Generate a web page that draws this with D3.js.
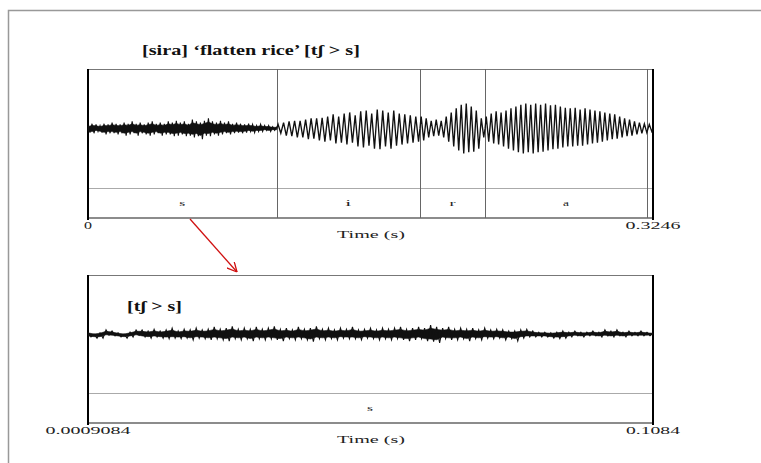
<!DOCTYPE html>
<html>
<head>
<meta charset="utf-8">
<script src="https://cdn.jsdelivr.net/npm/d3@7"></script>
<style>
  body { margin: 0; background: #fff; }
</style>
</head>
<body>
<script>
let width = 761;
let height = 463;

// whole word [sira], time in seconds
let fullDomain = [0, 0.3246];
let segLabels = ['s', 'i', 'r', 'a'];
let segBounds = [0, 0.1084, 0.1907, 0.2281, 0.3212];

// zoomed [s] part
let zoomDomain = [0.0009084, 0.1084];

// noise envelope of [s] in the full view (upper / lower edge, full scale = 1)
let sUpper = [.05, .08, .07, .05, .08, .07, .10, .08, .07, .10, .08, .12, .08, .10, .07, .10,
  .12, .08, .10, .08, .12, .10, .13, .10, .12, .08, .15, .12, .10, .13, .17, .12,
  .10, .13, .10, .12, .08, .10, .08, .07, .08, .07, .05, .07, .05, .05, .03, .03];
let sLower = [-.07, -.08, -.05, -.07, -.10, -.08, -.08, -.10, -.08, -.12, -.10, -.08, -.12, -.08, -.10, -.12,
  -.10, -.08, -.12, -.10, -.10, -.13, -.12, -.10, -.13, -.12, -.15, -.13, -.18, -.12, -.13, -.10,
  -.12, -.10, -.08, -.10, -.08, -.07, -.08, -.07, -.05, -.07, -.05, -.05, -.03, -.05, -.03, -.03];

// peak per glottal cycle (up / down) for the voiced parts
let iUp = [.07, .10, .12, .13, .13, .15, .17, .17, .18, .20, .24, .20, .25, .27, .22, .29, .30, .25, .32, .30, .27, .30, .25, .24, .22, .20];
let iDown = [.08, .12, .13, .15, .15, .18, .17, .20, .22, .20, .25, .24, .27, .24, .30, .32, .29, .34, .35, .30, .34, .29, .27, .25, .24, .22];
let rUp = [.20, .17, .13, .15, .13, .20, .27, .34, .40, .42, .37, .30, .17];
let rDown = [.20, .15, .13, .12, .15, .22, .30, .37, .42, .40, .39, .34, .15];
let aUp = [.20, .25, .29, .27, .30, .34, .37, .40, .42, .40, .42, .40, .42, .39, .40, .37, .35,
  .34, .35, .32, .34, .32, .30, .29, .27, .25, .24, .20, .17, .15, .12, .10, .08, .07];
let aDown = [.22, .25, .27, .30, .34, .37, .40, .42, .40, .42, .40, .39, .37, .35, .34, .32, .30,
  .30, .29, .29, .27, .25, .24, .22, .20, .18, .17, .15, .13, .12, .10, .08, .07, .05];

// noise envelope of the zoomed [s]
let zUpper = [.03, 0, .02, .07, .05, .02, 0, .03, .07, .07,
  .05, .08, .05, .07, .10, .05, .08, .07, .10, .07,
  .08, .12, .08, .10, .13, .08, .10, .08, .12, .08,
  .10, .13, .08, .10, .07, .12, .08, .10, .13, .08,
  .10, .07, .10, .08, .12, .07, .08, .10, .07, .10,
  .08, .10, .12, .08, .10, .12, .10, .15, .12, .10,
  .12, .08, .10, .08, .10, .07, .10, .07, .08, .07,
  .05, .05, .07, .08, .05, .03, .03, .02, .03, .05,
  .03, .05, .03, .03, .05, .03, .07, .05, .07, .03,
  .05, .03, .05, .03, .02];
let zLower = [-.05, -.07, -.07, -.02, -.03, -.05, -.07, -.05, -.02, -.05,
  -.07, -.05, -.07, -.08, -.07, -.08, -.07, -.10, -.07, -.08,
  -.10, -.08, -.10, -.12, -.08, -.10, -.08, -.12, -.08, -.10,
  -.08, -.10, -.12, -.08, -.10, -.08, -.10, -.13, -.08, -.10,
  -.08, -.10, -.07, -.08, -.08, -.10, -.07, -.08, -.10, -.08,
  -.10, -.08, -.10, -.12, -.10, -.08, -.12, -.13, -.15, -.08,
  -.10, -.10, -.08, -.12, -.08, -.10, -.07, -.08, -.07, -.10,
  -.08, -.12, -.07, -.05, -.05, -.05, -.05, -.07, -.08, -.07,
  -.05, -.03, -.05, -.03, -.03, -.05, -.03, -.05, -.03, -.05,
  -.03, -.03, -.03, -.03, -.02];

let serif = '"Liberation Serif", "Times New Roman", serif';
let ink = '#111';

let svg = d3.select('body').append('svg')
            .attr('width', width)
            .attr('height', height);

// page frame
svg.append('path')
    .attr('d', 'M8.5,' + height + 'V10.5H' + width)
    .attr('fill', 'none')
    .attr('stroke', '#999')
    .attr('stroke-width', 1.5);

function noisePoints(t0, t1, upper, lower) {
    let step = (t1 - t0) / (upper.length - 1);
    return upper.map(function(u, i) { return [t0 + i * step, u, lower[i], step]; });
}

function voicedPoints(t0, t1, ups, downs) {
    let p = (t1 - t0) / ups.length;
    let pts = [[t0, 0]];
    ups.forEach(function(u, j) {
        pts.push([t0 + (j + 0.25) * p, u]);
        pts.push([t0 + (j + 0.75) * p, -downs[j]]);
    });
    pts.push([t1, 0]);
    return pts;
}

function stretchText(g, str, x, y, len, size) {
    g.append('text')
        .attr('x', x)
        .attr('y', y)
        .attr('text-anchor', 'middle')
        .attr('textLength', len)
        .attr('lengthAdjust', 'spacingAndGlyphs')
        .style('font-family', serif)
        .style('font-size', size + 'px')
        .attr('fill', '#222')
        .text(str);
}

function boldLabel(str, x, y, len) {
    svg.append('text')
        .attr('x', x)
        .attr('y', y)
        .attr('textLength', len)
        .attr('lengthAdjust', 'spacingAndGlyphs')
        .style('font-family', serif)
        .style('font-size', '15px')
        .style('font-weight', 'bold')
        .attr('fill', '#111')
        .text(str);
}

// draws one Praat-like panel: waveform on top, one text tier below
function drawPanel(top, tierTop, bottom, domain) {
    let g = svg.append('g');
    let x = d3.scaleLinear().domain(domain).range([88, 653]);
    let y = d3.scaleLinear().domain([-1, 1]).range([tierTop, top]);

    g.append('line').attr('x1', 88).attr('x2', 653).attr('y1', top + 0.5).attr('y2', top + 0.5)
        .attr('stroke', '#777').attr('stroke-width', 1);
    g.append('line').attr('x1', 88).attr('x2', 653).attr('y1', tierTop + 0.5).attr('y2', tierTop + 0.5)
        .attr('stroke', '#aaa').attr('stroke-width', 1);
    g.append('line').attr('x1', 88).attr('x2', 653).attr('y1', bottom).attr('y2', bottom)
        .attr('stroke', '#666').attr('stroke-width', 1.5);
    g.selectAll('.edge')
        .data(domain)
        .enter()
        .append('line')
        .attr('class', 'edge')
        .attr('x1', function(d) { return x(d); })
        .attr('x2', function(d) { return x(d); })
        .attr('y1', top)
        .attr('y2', bottom + 2)
        .attr('stroke', '#000')
        .attr('stroke-width', 2);

    return { g: g, x: x, y: y };
}

// noise: solid core plus spiky zigzag through the envelope samples
function drawNoise(p, pts) {
    let core = d3.area()
        .x(function(d) { return p.x(d[0]); })
        .y0(function(d) { return p.y(d[2] * 0.65); })
        .y1(function(d) { return p.y(d[1] * 0.65); });
    p.g.append('path')
        .datum(pts)
        .attr('d', core)
        .attr('fill', ink)
        .attr('stroke', ink)
        .attr('stroke-width', 0.6);

    let zig = [];
    pts.forEach(function(d) {
        zig.push([d[0], d[1]]);
        zig.push([d[0] + d[3] / 2, d[2]]);
    });
    zig.pop();
    p.g.append('path')
        .datum(zig)
        .attr('d', d3.line()
            .x(function(d) { return p.x(d[0]); })
            .y(function(d) { return p.y(d[1]); }))
        .attr('fill', 'none')
        .attr('stroke', ink)
        .attr('stroke-width', 1.1);
}

// ---- top panel: [sira]
let p1 = drawPanel(69, 188, 218, fullDomain);

p1.g.selectAll('.bound')
    .data(segBounds.slice(1))
    .enter()
    .append('line')
    .attr('class', 'bound')
    .attr('x1', function(d) { return Math.round(p1.x(d)) + 0.5; })
    .attr('x2', function(d) { return Math.round(p1.x(d)) + 0.5; })
    .attr('y1', 69)
    .attr('y2', 218)
    .attr('stroke', '#666')
    .attr('stroke-width', 1);

drawNoise(p1, noisePoints(segBounds[0], segBounds[1], sUpper, sLower));

let line1 = d3.line()
    .x(function(d) { return p1.x(d[0]); })
    .y(function(d) { return p1.y(d[1]); });

let voiced = [
    voicedPoints(segBounds[1], segBounds[2], iUp, iDown),
    voicedPoints(segBounds[2], segBounds[3], rUp, rDown),
    voicedPoints(segBounds[3], fullDomain[1], aUp, aDown)
];
p1.g.selectAll('.wave')
    .data(voiced)
    .enter()
    .append('path')
    .attr('class', 'wave')
    .attr('d', line1)
    .attr('fill', 'none')
    .attr('stroke', ink)
    .attr('stroke-width', 1.35);

segLabels.forEach(function(s, i) {
    stretchText(p1.g, s, p1.x((segBounds[i] + segBounds[i + 1]) / 2), 206, 6, 9);
});

stretchText(svg, '0', p1.x(fullDomain[0]), 229, 8, 10);
stretchText(svg, '0.3246', p1.x(fullDomain[1]), 229, 55, 10);
stretchText(svg, 'Time (s)', 371, 238, 68, 10);

boldLabel('[sira] \u2018flatten rice\u2019 [t\u0283 > s]', 142, 55, 218);

// ---- bottom panel: zoomed [s]
let p2 = drawPanel(275, 393, 423, zoomDomain);

drawNoise(p2, noisePoints(zoomDomain[0], zoomDomain[1], zUpper, zLower));

stretchText(p2.g, 's', 370, 411, 6, 9);
stretchText(svg, '0.0009084', p2.x(zoomDomain[0]), 434, 85, 10);
stretchText(svg, '0.1084', p2.x(zoomDomain[1]), 434, 54, 10);
stretchText(svg, 'Time (s)', 371, 443, 68, 10);

boldLabel('[t\u0283 > s]', 127, 311, 55);

// red arrow from the [s] interval down to the zoomed panel
svg.append('defs').append('marker')
    .attr('id', 'head')
    .attr('viewBox', '0 0 10 10')
    .attr('refX', 10)
    .attr('refY', 5)
    .attr('markerWidth', 10)
    .attr('markerHeight', 10)
    .attr('markerUnits', 'userSpaceOnUse')
    .attr('orient', 'auto')
    .append('path')
    .attr('d', 'M0,0L10,5L0,10')
    .attr('fill', 'none')
    .attr('stroke', '#d01010')
    .attr('stroke-width', 1.3);

svg.append('line')
    .attr('x1', 190)
    .attr('y1', 219)
    .attr('x2', 237)
    .attr('y2', 272)
    .attr('stroke', '#d01010')
    .attr('stroke-width', 1.3)
    .attr('marker-end', 'url(#head)');
</script>
</body>
</html>
